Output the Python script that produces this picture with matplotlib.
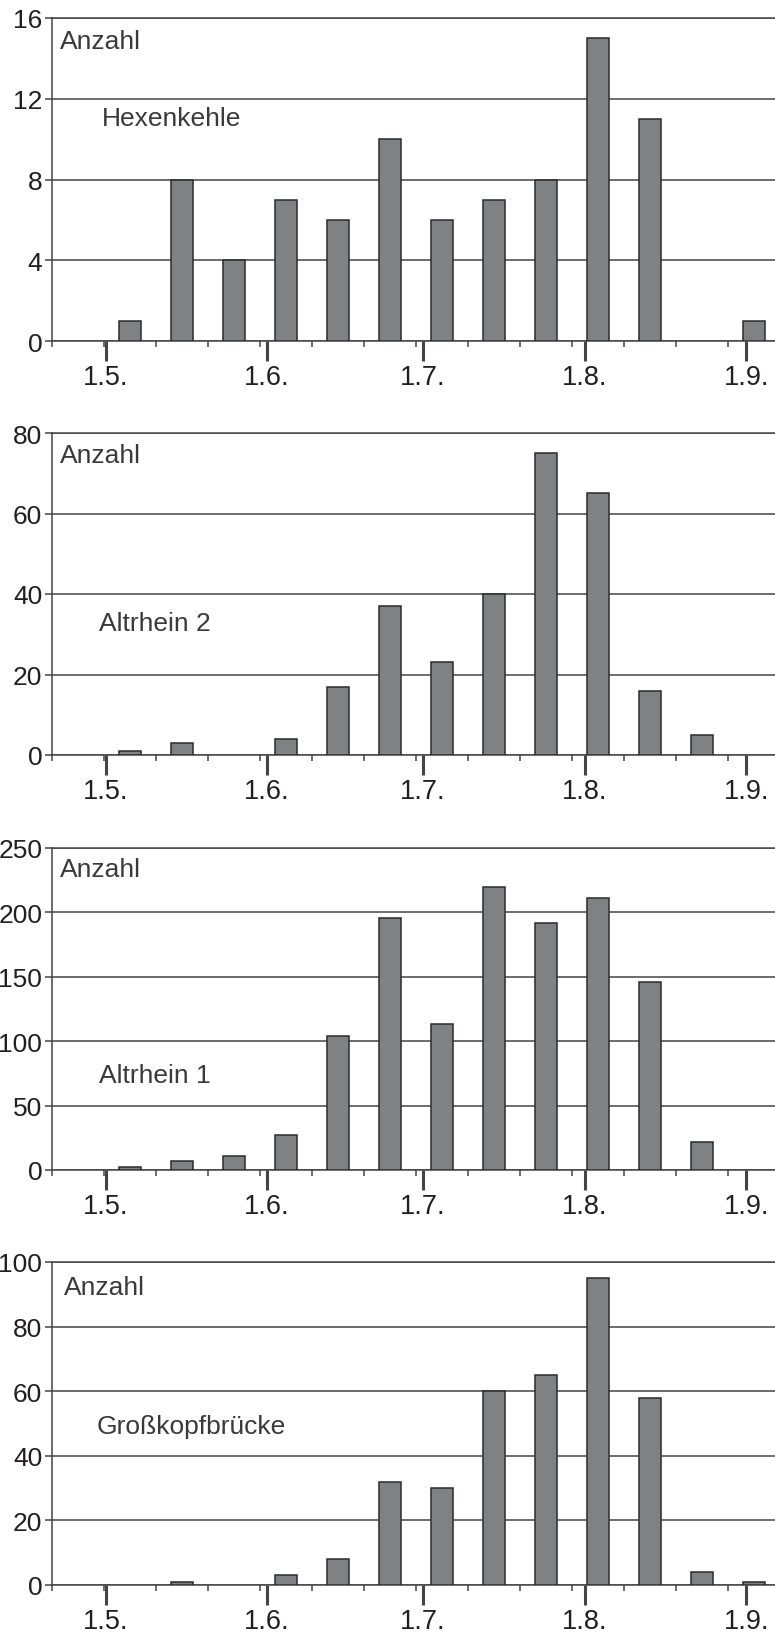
import numpy as np
import matplotlib
matplotlib.use('Agg')
import matplotlib.pyplot as plt

plt.rcParams['font.family'] = ['Liberation Sans', 'DejaVu Sans']

# bins 0..13 (first bin always empty)
hexenkehle = [0, 1, 8, 4, 7, 6, 10, 6, 7, 8, 15, 11, 0, 1]
altrhein2 = [0, 1, 3, 0, 4, 17, 37, 23, 40, 75, 65, 16, 5, 0]
altrhein1 = [0, 2, 7, 11, 27, 104, 196, 113, 220, 192, 211, 146, 22, 0]
grosskopf = [0, 0, 1, 0, 3, 8, 32, 30, 60, 65, 95, 58, 4, 1]

names = ["Hexenkehle", "Altrhein 2", "Altrhein 1", "Großkopfbrücke"]
ymax = [16, 80, 250, 100]
ysteps = [4, 20, 50, 20]

xtick_labels = ["1.5.", "1.6.", "1.7.", "1.8.", "1.9."]
xtick_pos = [0.54, 3.635, 6.635, 9.75, 12.85]

W, H = 775, 1633
fig = plt.figure(figsize=(W / 100, H / 100), dpi=100)

# axes boxes in pixels: (top, bottom)
boxes = [(19, 342), (434, 756), (849, 1171), (1263, 1586)]
left_px = 52
width_px = 14 * 52
anz_top = [30, 29, 28, 32]
anz_x = [60, 60, 60, 64]
name_base = [0.669, 0.389, 0.273, 0.471]
name_x = [102, 99, 99, 97]

line_col = '#454545'
txt_col = '#231f20'

for i, data in enumerate([hexenkehle, altrhein2, altrhein1, grosskopf]):
    top, bot = boxes[i]
    ax = fig.add_axes([left_px / W, (H - bot) / H, width_px / W, (bot - top) / H])
    x = np.arange(len(data))
    edges = ['#2b2b2b' if v > 0 else 'none' for v in data]
    ax.bar(x, data, width=0.41, color='#808184', edgecolor=edges,
           linewidth=1.1, zorder=3)
    ax.set_xlim(-0.5, 13.5)
    ax.set_ylim(0, ymax[i])
    ax.set_yticks(np.arange(0, ymax[i] + 1, ysteps[i]))
    ax.set_xticks(xtick_pos)
    ax.set_xticklabels(xtick_labels)
    ax.set_xticks(np.arange(-0.5, 14, 1.0), minor=True)

    ax.grid(axis='y', color=line_col, linewidth=1.1, zorder=1)
    ax.set_axisbelow(True)
    ax.spines['right'].set_visible(False)
    for s in ['left', 'bottom', 'top']:
        ax.spines[s].set_color(line_col)
        ax.spines[s].set_linewidth(1.1)

    ax.tick_params(axis='x', which='major', length=14.4, width=2.2,
                   color=line_col, pad=2, labelsize=19.5, labelcolor=txt_col)
    ax.tick_params(axis='x', which='minor', length=4.3, width=1.1,
                   color=line_col)
    ax.tick_params(axis='y', which='major', length=5, width=1.1,
                   color=line_col, pad=2, labelsize=19, labelcolor=txt_col)

    h = bot - top
    ax.text((anz_x[i] - left_px) / width_px, 1 - anz_top[i] / h, "Anzahl",
            transform=ax.transAxes, fontsize=19, color='#3a3a3a',
            ha='left', va='baseline')
    ax.text((name_x[i] - left_px) / width_px, name_base[i], names[i],
            transform=ax.transAxes, fontsize=19, color='#3a3a3a',
            ha='left', va='baseline')

fig.savefig('out.png', dpi=100)
